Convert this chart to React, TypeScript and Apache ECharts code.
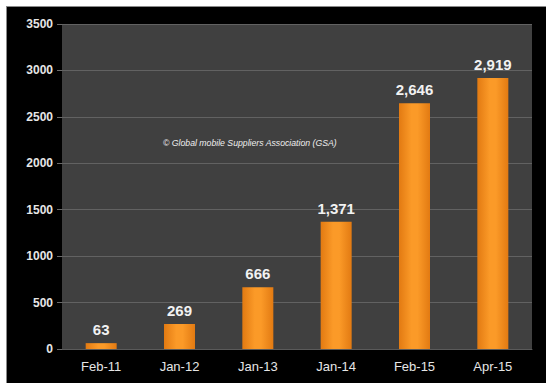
import React, { useEffect, useRef } from "react";
import * as echarts from "echarts";

const categories = ["Feb-11", "Jan-12", "Jan-13", "Jan-14", "Feb-15", "Apr-15"];
const values = [63, 269, 666, 1371, 2646, 2919];
const yTicks = { min: 0, max: 3500, interval: 500 };
const watermark = "© Global mobile Suppliers Association (GSA)";

export default function App() {
  const ref = useRef<HTMLDivElement>(null);
  useEffect(() => {
    if (!ref.current) return;
    const chart = echarts.init(ref.current, undefined, { renderer: "svg" });
    chart.setOption({
      animation: false,
      backgroundColor: "transparent",
      grid: {
        left: 62,
        right: 14,
        top: 24,
        bottom: 34,
        show: true,
        backgroundColor: "#404040",
        borderWidth: 0,
      },
      xAxis: {
        type: "category",
        data: categories,
        axisLine: { show: true, lineStyle: { color: "#5a5a5a" } },
        axisTick: { show: false },
        axisLabel: {
          color: "#e6e6e6",
          fontSize: 13,
          fontFamily: "Liberation Sans, Arial, sans-serif",
          margin: 11,
        },
      },
      yAxis: {
        type: "value",
        min: yTicks.min,
        max: yTicks.max,
        interval: yTicks.interval,
        axisLine: { show: false },
        axisTick: { show: true, length: 5, lineStyle: { color: "#6a6a6a" } },
        splitLine: { lineStyle: { color: "#626262", width: 1 } },
        axisLabel: {
          color: "#e6e6e6",
          fontSize: 12,
          fontWeight: "bold",
          fontFamily: "Liberation Sans, Arial, sans-serif",
          margin: 9,
          formatter: (v: number) => String(v),
        },
      },
      series: [
        {
          type: "bar",
          data: values,
          barWidth: 31,
          itemStyle: {
            color: new echarts.graphic.LinearGradient(0, 0, 1, 0, [
              { offset: 0, color: "#e27a12" },
              { offset: 0.4, color: "#fb9a28" },
              { offset: 0.6, color: "#fb9a28" },
              { offset: 1, color: "#e27a12" },
            ]),
          },
          label: {
            show: true,
            position: "top",
            distance: 6,
            color: "#f2f2f2",
            fontSize: 15,
            fontWeight: "bold",
            fontFamily: "Liberation Sans, Arial, sans-serif",
            formatter: (p: any) => Number(p.value).toLocaleString("en-US"),
          },
        },
      ],
      graphic: [
        {
          type: "text",
          x: 163,
          y: 143,
          style: {
            text: watermark,
            fill: "#eeeeee",
            font: "italic 8.7px 'Liberation Sans', Arial, sans-serif",
            verticalAlign: "middle",
            align: "left",
          },
        },
      ],
    });
    return () => chart.dispose();
  }, []);

  return (
    <div
      style={{
        position: "fixed",
        left: 0,
        top: 0,
        width: 546,
        height: 383,
        background: "#ffffff",
        overflow: "hidden",
      }}
    >
      <div
        style={{
          position: "absolute",
          left: 6,
          top: 6,
          width: 560,
          height: 400,
          background: "#000000",
          borderLeft: "1px solid #8a8a8a",
          borderTop: "1px solid #8a8a8a",
        }}
      />
      <div
        ref={ref}
        style={{ position: "absolute", left: 0, top: 0, width: 546, height: 383 }}
      />
    </div>
  );
}
